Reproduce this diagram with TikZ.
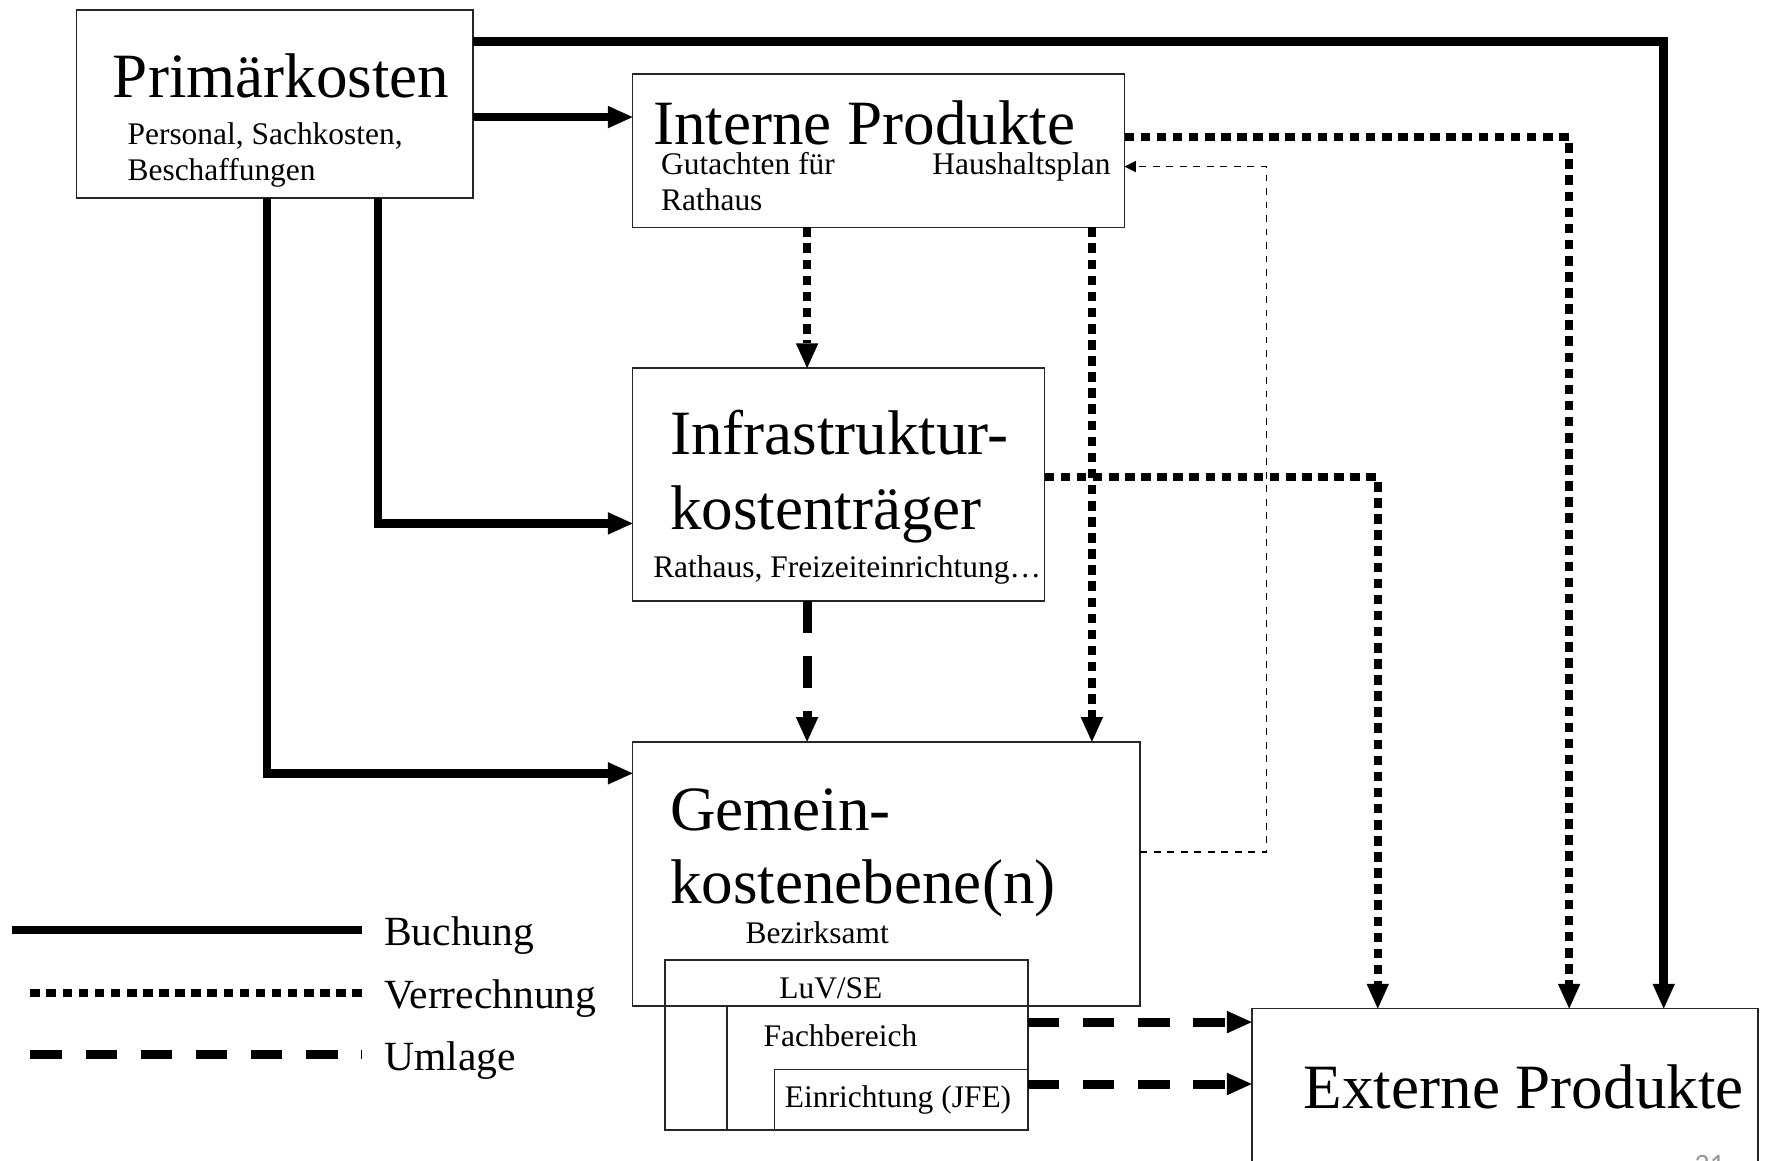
\documentclass[tikz,border=0pt]{standalone}
\usepackage{fontspec}
\setmainfont{Liberation Serif}
\newfontfamily\pagefont{Carlito}
\usetikzlibrary{arrows.meta}
\begin{document}
\begin{tikzpicture}[x=0.02cm,y=-0.02cm,
  box/.style={draw=black!85, line width=0.03cm, inner sep=0pt, outer sep=0pt, anchor=north west},
  big/.style={font=\fontsize{31.9}{36}\selectfont, inner sep=0pt, anchor=base west},
  mid/.style={font=\fontsize{21}{24}\selectfont, inner sep=0pt, anchor=base west},
  small/.style={font=\fontsize{15.9}{18}\selectfont, inner sep=0pt, anchor=base west},
  bigtip/.tip={Triangle[length=0.44cm,width=0.40cm,line width=0pt]},
  buch/.style={line width=0.15cm, line join=miter},
  verr/.style={line width=0.14cm, dash pattern=on 0.17cm off 0.116cm},
  uml/.style={line width=0.16cm, dash pattern=on 0.56cm off 0.42cm},
  thinline/.style={line width=0.03cm, dash pattern=on 0.12cm off 0.12cm,
    -{Triangle[length=0.2cm,width=0.2cm,line width=0pt]}},
]
\clip (0,0) rectangle (1568,1031);
\fill[white] (0,0) rectangle (1568,1031);

% boxes
\node[box, minimum width=352*0.02cm, minimum height=167*0.02cm] (prim) at (68,9) {};
\node[box, minimum width=437*0.02cm, minimum height=136*0.02cm] (intern) at (562,66) {};
\node[box, minimum width=366*0.02cm, minimum height=207*0.02cm] (infra) at (562,327) {};
\node[box, minimum width=451*0.02cm, minimum height=235*0.02cm] (gemein) at (562,659) {};
\node[box, minimum width=322*0.02cm, minimum height=151*0.02cm] (luv) at (591,853) {};
\node[box, minimum width=267*0.02cm, minimum height=110*0.02cm] (fach) at (646,894) {};
\node[box, minimum width=225*0.02cm, minimum height=54*0.02cm] (einr) at (688,950) {};
\node[box, minimum width=450*0.02cm, minimum height=220*0.02cm] (extern) at (1112,896) {};

% texts
\node[big] (t1) at (100,87) {Primärkosten};
\node[small] (t2) at (113,128) {Personal, Sachkosten,};
\node[small] (t3) at (113,160) {Beschaffungen};
\node[big] (t4) at (580,128) {Interne Produkte};
\node[small] (t5) at (587,155) {Gutachten für};
\node[small] (t6) at (587,187) {Rathaus};
\node[small, anchor=base east] (t7) at (987,155) {Haushaltsplan};
\node[big] (t8) at (595,404) {Infrastruktur-};
\node[big] (t9) at (595,470) {kostenträger};
\node[small] (t10) at (580,513) {Rathaus, Freizeiteinrichtung…};
\node[big] (t11) at (595,738) {Gemein-};
\node[big] (t12) at (595,803) {kostenebene(n)};
\node[small] (t13) at (662,838) {Bezirksamt};
\node[small] (t14) at (692,887) {LuV/SE};
\node[small] (t15) at (678,930) {Fachbereich};
\node[small] (t16) at (697,984) {Einrichtung (JFE)};
\node[big] (t17) at (1158,985) {Externe Produkte};
\node[font=\pagefont\fontsize{15}{18}\selectfont, text=black!40, inner sep=0pt, anchor=base west] (pg) at (1505,1043) {21};

% legend
\node[mid] (lb) at (341,840) {Buchung};
\node[mid] (lv) at (341,896) {Verrechnung};
\node[mid] (lu) at (341,951) {Umlage};
\coordinate (lb1) at (11,826);  \coordinate (lb2) at (322,826);
\coordinate (lv1) at (27,882);  \coordinate (lv2) at (322,882);
\coordinate (lu1) at (27,937);  \coordinate (lu2) at (322,937);
\draw[buch] (lb1) -- (lb2);
\draw[verr] (lv1) -- (lv2);
\draw[uml] (lu1) -- (lu2);

% routing points
\coordinate (c1) at (1478,37);
\coordinate (c2) at (0,104);
\coordinate (c3) at (336,465);
\coordinate (c4) at (237,687);
\coordinate (c5) at (717,0);
\coordinate (c6) at (1394,122);
\coordinate (c7) at (970,0);
\coordinate (c8) at (1224,424);
\coordinate (c10) at (0,908);
\coordinate (c11) at (0,963);
\coordinate (c12a) at (1125,757);
\coordinate (c12b) at (1125,148);

% Buchung
\draw[buch, -bigtip] (prim.east |- c1) -- (c1) -- (c1 |- extern.north);
\draw[buch, -bigtip] (prim.east |- c2) -- (intern.west |- c2);
\draw[buch, -bigtip] (c3 |- prim.south) -- (c3) -- (infra.west |- c3);
\draw[buch, -bigtip] (c4 |- prim.south) -- (c4) -- (gemein.west |- c4);

% Verrechnung
\draw[verr, -bigtip] (c5 |- intern.south) -- (c5 |- infra.north);
\draw[verr, -bigtip] (intern.east |- c6) -- (c6) -- (c6 |- extern.north);
\draw[verr, -bigtip] (c7 |- intern.south) -- (c7 |- gemein.north);
\draw[verr, -bigtip] (infra.east |- c8) -- (c8) -- (c8 |- extern.north);

% Umlage
\draw[uml, -bigtip] (c5 |- infra.south) -- (c5 |- gemein.north);
\draw[uml, -bigtip] (luv.east |- c10) -- (extern.west |- c10);
\draw[uml, -bigtip] (einr.east |- c11) -- (extern.west |- c11);

% thin dashed feedback
\draw[thinline] (gemein.east |- c12a) -- (c12a) -- (c12b) -- (intern.east |- c12b);
\end{tikzpicture}
\end{document}
